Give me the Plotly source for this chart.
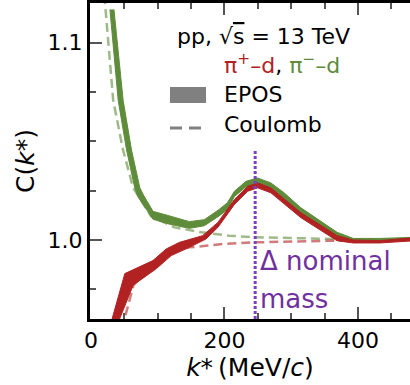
import plotly.graph_objects as go

# ---------------- data ----------------
# EPOS band, pi- d (green): upper and lower edges
gm_up_k = [34.4, 48.2, 60.7, 73.1, 79.0, 92.9, 117.7, 147.4, 169.8, 192.1, 204.5, 214.9, 232.3, 249.7, 269.5, 289.3, 314.1, 339.0, 368.8, 393.0, 433.2, 478.0]
gm_up_c = [1.1167, 1.0706, 1.0456, 1.0265, 1.0225, 1.0145, 1.0122, 1.0093, 1.0103, 1.0155, 1.0189, 1.0247, 1.0297, 1.0314, 1.0289, 1.0239, 1.0164, 1.0105, 1.0039, 1.0008, 1.0008, 1.0013]
gm_lo_k = [28.4, 40.8, 53.3, 65.6, 70.1, 92.9, 117.7, 147.4, 169.8, 192.1, 204.5, 214.9, 232.3, 249.7, 269.5, 289.3, 314.1, 339.0, 368.8, 393.0, 433.2, 478.0]
gm_lo_c = [1.1167, 1.0706, 1.0456, 1.0264, 1.0220, 1.0105, 1.0080, 1.0059, 1.0072, 1.0122, 1.0155, 1.0220, 1.0270, 1.0285, 1.0260, 1.0210, 1.0135, 1.0080, 1.0018, 0.9992, 0.9992, 0.9997]

# EPOS band, pi+ d (red): upper and lower edges
rp_up_k = [27.7, 50.7, 92.9, 112.8, 132.6, 167.3, 190.2, 214.9, 234.8, 249.7, 269.5, 314.1, 368.8, 393.0, 433.2, 478.0]
rp_up_c = [0.9554, 0.9830, 0.9896, 0.9955, 0.9988, 1.0022, 1.0089, 1.0205, 1.0272, 1.0289, 1.0264, 1.0139, 1.0022, 1.0000, 0.9997, 1.0010]
rp_lo_k = [37.4, 63.1, 97.9, 120.2, 147.5, 172.3, 190.2, 214.9, 234.8, 249.7, 269.5, 314.1, 368.8, 393.0, 433.2, 478.0]
rp_lo_c = [0.9554, 0.9771, 0.9855, 0.9921, 0.9963, 1.0005, 1.0064, 1.0180, 1.0247, 1.0264, 1.0239, 1.0114, 0.9996, 0.9985, 0.9985, 0.9995]

# Coulomb-only curves
gc_k = [20.0, 33.3, 48.0, 63.1, 90.0, 125.0, 165.3, 207.0, 244.0, 368.8, 478.0]
gc_c = [1.1240, 1.0706, 1.0456, 1.0265, 1.0120, 1.0064, 1.0039, 1.0022, 1.0014, 1.0005, 1.0002]
rc_k = [47.0, 51.2, 63.7, 75.0, 90.0, 110.0, 147.5, 165.3, 197.0, 244.6, 368.8, 478.0]
rc_c = [0.9550, 0.9613, 0.9771, 0.9820, 0.9880, 0.9938, 0.9963, 0.9968, 0.9980, 0.9988, 0.9997, 0.9999]

# Delta nominal mass marker
delta_k = 246.0
delta_c = [0.96, 1.0456]

x_range = [-1.5, 478]
y_range = [0.96, 1.12]
x_ticks = [0, 200, 400]
y_ticks = [1.0, 1.1]

RED = "#B22222"
GREEN = "#5E8C3A"
PURPLE_LINE = "#7B3FBF"
PURPLE_TEXT = "#7030A0"

fig = go.Figure()

# Coulomb dashed curves
fig.add_trace(go.Scatter(x=gc_k, y=gc_c, mode="lines",
                         line=dict(color="rgba(94,140,58,0.6)", width=2.5, dash="9px,5px")))
fig.add_trace(go.Scatter(x=rc_k, y=rc_c, mode="lines",
                         line=dict(color="rgba(178,34,34,0.6)", width=2.5, dash="9px,5px")))

# EPOS bands
fig.add_trace(go.Scatter(x=gm_up_k + gm_lo_k[::-1], y=gm_up_c + gm_lo_c[::-1], mode="lines",
                         fill="toself", fillcolor=GREEN, line=dict(color=GREEN, width=1)))
fig.add_trace(go.Scatter(x=rp_up_k + rp_lo_k[::-1], y=rp_up_c + rp_lo_c[::-1], mode="lines",
                         fill="toself", fillcolor=RED, line=dict(color=RED, width=1)))

# Delta nominal mass dotted line
fig.add_trace(go.Scatter(x=[delta_k, delta_k], y=delta_c, mode="lines",
                         line=dict(color=PURPLE_LINE, width=3, dash="3px,2px")))

tick_style = dict(ticks="inside", ticklen=12, tickwidth=2, tickcolor="#555555",
                  showgrid=False, zeroline=False)

fig.update_xaxes(range=x_range, tickvals=x_ticks, showline=True, linewidth=3, linecolor="black",
                 mirror="ticks", tickfont=dict(size=22, color="black"),
                 minor=dict(dtick=50, tick0=0, ticks="inside", ticklen=6, tickwidth=2,
                            tickcolor="#555555", showgrid=False),
                 title=dict(text="<i>k</i>*\u2009(MeV/<i>c</i>)", font=dict(size=25, color="black"), standoff=3),
                 **tick_style)
fig.update_yaxes(range=y_range, tickvals=y_ticks, ticktext=["1.0", "1.1"], showline=True, linewidth=3,
                 linecolor="black", mirror=False, tickfont=dict(size=22, color="black"),
                 minor=dict(dtick=0.025, tick0=1.0, ticks="inside", ticklen=6, tickwidth=2,
                            tickcolor="#555555", showgrid=False),
                 title=dict(text="C(<i>k</i>*)", font=dict(size=25, color="black"), standoff=6),
                 **tick_style)

fig.update_layout(
    width=410, height=385,
    margin=dict(l=90, r=0, t=3, b=66),
    plot_bgcolor="white", paper_bgcolor="white",
    showlegend=False,
    font=dict(family="DejaVu Sans", color="black"),
    yaxis2=dict(overlaying="y", side="right", range=y_range, tickvals=y_ticks, showticklabels=False,
                showline=False, ticks="inside", ticklen=12, tickwidth=2, tickcolor="#555555",
                showgrid=False, zeroline=False,
                minor=dict(dtick=0.025, tick0=1.0, ticks="inside", ticklen=6, tickwidth=2,
                           tickcolor="#555555", showgrid=False)),
)

def px_x(p):
    return (p - 90) / 320.0

def px_y(p):
    return (319 - p) / 316.0

ann = [
    dict(text='pp, √<span style="text-decoration:overline">s</span> = 13 TeV', x=px_x(175), y=px_y(36),
         font=dict(size=22, color="black")),
    dict(text=f'<span style="color:{RED}">π<sup>+</sup>–d</span>, '
              f'<span style="color:{GREEN}">π<sup>−</sup>–d</span>', x=px_x(222), y=px_y(64),
         font=dict(size=22, color="black")),
    dict(text="EPOS", x=px_x(222), y=px_y(94), font=dict(size=22, color="black")),
    dict(text="Coulomb", x=px_x(222), y=px_y(124), font=dict(size=22, color="black")),
    dict(text="Δ nominal", x=px_x(258), y=px_y(261), font=dict(size=26, color=PURPLE_TEXT)),
    dict(text="mass", x=px_x(258), y=px_y(299), font=dict(size=26, color=PURPLE_TEXT)),
]
for a in ann:
    fig.add_annotation(xref="paper", yref="paper", xanchor="left", yanchor="middle",
                       showarrow=False, **a)

# legend handles
fig.add_shape(type="rect", xref="paper", yref="paper", x0=px_x(170), x1=px_x(206),
              y0=px_y(103), y1=px_y(87), fillcolor="#808080", line=dict(width=0))
fig.add_shape(type="line", xref="paper", yref="paper", x0=px_x(170), x1=px_x(203),
              y0=px_y(128), y1=px_y(128), line=dict(color="#808080", width=3, dash="12px,7px"))

fig.write_html("out.html")
